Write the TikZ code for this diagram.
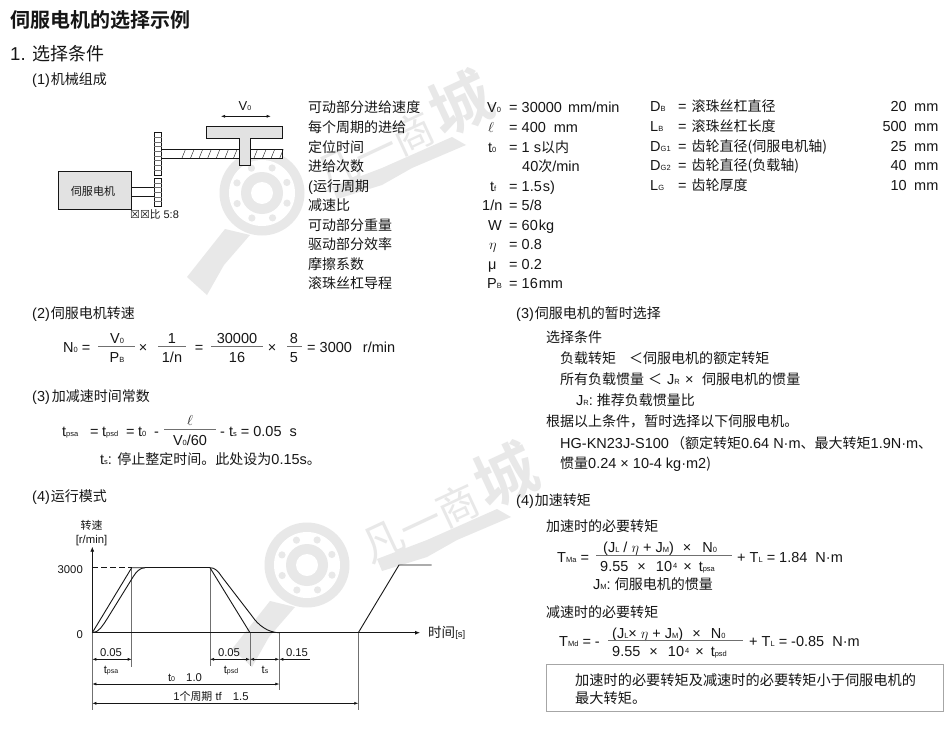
\documentclass[tikz,border=0pt]{standalone}
\usepackage{fontspec}
\usepackage{amsmath}
\setmainfont{Liberation Sans}
\newfontfamily\cjkfam[BoldFont=* Bold,Scale=0.966]{Noto Sans CJK SC}
\newfontfamily\boxfam{DejaVu Sans}
\usetikzlibrary{arrows.meta}
\definecolor{ink}{HTML}{161616}
\definecolor{wm}{HTML}{E8E8E8}
\definecolor{fillg}{HTML}{E2E2E2}
\definecolor{guide}{HTML}{707070}
\newcommand\zh[1]{{\cjkfam #1}}
\newcommand\sbx[1]{{\fontsize{7.5}{8}\selectfont #1}}
\newcommand\sbs[1]{{\fontsize{7}{7}\selectfont #1}}
\newcommand\supx[1]{\raisebox{3pt}{\fontsize{7.5}{8}\selectfont #1}}
\newcounter{tn}
\newcommand\tx[4][]{\stepcounter{tn}\node[txt,#1] (t\arabic{tn}) at (#2,#3+5) {#4};}
\tikzset{
  txt/.style={inner sep=0pt,anchor=base west,text=ink,font=\fontsize{14.5}{16}\selectfont},
  ctr/.style={anchor=base},
  rgt/.style={anchor=base east},
  chartfont/.style={font=\fontsize{11.3}{13}\selectfont},
  part/.style={draw=ink,line width=1pt,fill=fillg},
  thin part/.style={draw=ink,line width=0.8pt,fill=white},
  tooth/.style={draw=guide,line width=0.35pt},
  curve/.style={draw=ink,line width=0.9pt},
  guideline/.style={draw=guide,line width=0.7pt},
  dim/.style={draw=ink,line width=0.6pt,{Latex[length=4pt,width=3pt]}-{Latex[length=4pt,width=3pt]}},
  rulefrac/.style={draw=guide,line width=0.7pt},
}
\newcommand\wmark[3]{%
  \begin{scope}[shift={(#1,#2)}]
    \fill[wm] (0,0) circle[radius=42.5];
    \fill[white] (0,0) circle[radius=33];
    \fill[wm] (0,0) circle[radius=21];
    \fill[white] (0,0) circle[radius=11];
    \foreach \a in {0,45,...,315} \fill[wm] (\a+22:27) circle[radius=3.6];
    \fill[wm] (-75,84) -- (-37,36) -- (-12,42) -- (-38,72) -- (-55,102) -- cycle;
    \fill[wm] (70,-6) -- (120,-25) -- (190,-56) -- (204,-48) -- (150,-25) -- (120,-8) -- (75,6) -- cycle;
    \node[inner sep=0pt,rotate=25,text=wm,font=\fontsize{43}{46}\selectfont] (#3) at (140,-63)
      {\zh{凡一商}\hspace{4pt}\fontsize{64}{66}\selectfont\zh{\bfseries 城}};
  \end{scope}}
\begin{document}
\begin{tikzpicture}[x=1pt,y=-1pt]
\useasboundingbox (0,0) rectangle (950,731);
\fill[white] (0,0) rectangle (950,731);
\wmark{262}{193}{wmA}
\wmark{307}{565}{wmB}

% headings
\tx[font=\fontsize{20.7}{22}\selectfont]{10}{22}{\zh{\bfseries 伺服电机的选择示例}}
\tx[font=\fontsize{18.6}{20}\selectfont]{10}{55}{1. \zh{选择条件}}
\tx{32}{79}{(1)\hspace{1pt}\zh{机械组成}}
\tx{32}{313}{(2)\hspace{1pt}\zh{伺服电机转速}}
\tx{32}{396}{(3)\hspace{2pt}\zh{加减速时间常数}}
\tx{32}{496}{(4)\hspace{1pt}\zh{运行模式}}
\tx{516}{313}{(3)\hspace{1pt}\zh{伺服电机的暂时选择}}
\tx{516}{500}{(4)\hspace{1pt}\zh{加速转矩}}

% mechanism
\draw[part] (58,171) rectangle (131.7,209);
\node[txt,ctr,font=\fontsize{11.4}{13}\selectfont] (motor) at (93,195) {\zh{伺服电机}};
\draw[thin part] (131.7,187.7) rectangle (154.3,196.7);
\draw[thin part] (161.5,149.3) rectangle (282,158);
\foreach \h in {0,8.6,...,52} \draw[draw=ink,line width=0.4pt] (182+\h,158) -- (185.5+\h,149.3);
\foreach \h in {0,8.6,...,26} \draw[draw=ink,line width=0.4pt] (254+\h,158) -- (257.5+\h,149.3);
\draw[draw=ink,line width=0.8pt,fill=white] (154.3,132.3) rectangle (161.5,175);
\foreach \v in {4.7,9.4,...,40} \draw[tooth] (154.3,132.3+\v) -- (161.5,132.3+\v);
\draw[draw=ink,line width=0.8pt,fill=white] (154.3,178) rectangle (161.5,206.7);
\foreach \v in {4.7,9.4,...,27} \draw[tooth] (154.3,178+\v) -- (161.5,178+\v);
\draw[part] (206.7,126) -- (282.3,126) -- (282.3,138.3) -- (250.7,138.3) -- (250.7,165.7) -- (239,165.7) -- (239,138.3) -- (206.7,138.3) -- cycle;
\coordinate (va) at (221,116.3);
\coordinate (vb) at (270.7,116.3);
\draw[dim] (va) -- (vb);
\tx[ctr,font=\fontsize{13}{14}\selectfont]{245}{105}{V\sbs{0}}
\tx[font=\fontsize{11}{12}\selectfont]{130}{213}{{\boxfam ☒☒}\zh{比} 5:8}

% parameter table, left
\tx{308}{107}{\zh{可动部分进给速度}}
\tx{308}{127}{\zh{每个周期的进给}}
\tx{308}{147}{\zh{定位时间}}
\tx{308}{166}{\zh{进给次数}}
\tx{308}{186}{(\zh{运行周期}}
\tx{308}{205}{\zh{减速比}}
\tx{308}{225}{\zh{可动部分重量}}
\tx{308}{244}{\zh{驱动部分效率}}
\tx{308}{264}{\zh{摩擦系数}}
\tx{308}{283}{\zh{滚珠丝杠导程}}

\tx{487}{107}{V\sbx{0}}
\tx{509}{107}{= 30000\hspace{6pt}mm/min}
\tx{488}{127}{$\ell$}
\tx{509}{127}{= 400\hspace{8pt}mm}
\tx{488}{147}{t\sbx{0}}
\tx{509}{147}{= 1 s\zh{以内}}
\tx{522}{166}{40\zh{次}/min}
\tx{490}{186}{t\sbx{f}}
\tx{509}{186}{= 1.5\hspace{1pt}s)}
\tx{482}{205}{1/n}
\tx{509}{205}{= 5/8}
\tx{488}{225}{W}
\tx{509}{225}{= 60\hspace{1pt}kg}
\tx{489}{244}{$\eta$}
\tx{509}{244}{= 0.8}
\tx{488}{264}{μ}
\tx{509}{264}{= 0.2}
\tx{487}{283}{P\sbx{B}}
\tx{509}{283}{= 16\hspace{1pt}mm}

% parameter table, right
\tx{650}{106}{D\sbx{B}}
\tx{650}{126}{L\sbx{B}}
\tx{650}{146}{D\sbx{G1}}
\tx{650}{165}{D\sbx{G2}}
\tx{650}{185}{L\sbx{G}}
\tx{678}{106}{=\hspace{5pt}\zh{滚珠丝杠直径}}
\tx{678}{126}{=\hspace{5pt}\zh{滚珠丝杠长度}}
\tx{678}{146}{=\hspace{5pt}\zh{齿轮直径(伺服电机轴)}}
\tx{678}{165}{=\hspace{5pt}\zh{齿轮直径(负载轴)}}
\tx{678}{185}{=\hspace{5pt}\zh{齿轮厚度}}
\tx[rgt]{907}{106}{20}
\tx[rgt]{907}{126}{500}
\tx[rgt]{907}{146}{25}
\tx[rgt]{907}{165}{40}
\tx[rgt]{907}{185}{10}
\tx{914}{106}{mm}
\tx{914}{126}{mm}
\tx{914}{146}{mm}
\tx{914}{165}{mm}
\tx{914}{185}{mm}

% N0 equation
\tx{63}{347}{N\sbx{0} =}
\tx[ctr]{117}{338}{V\sbx{0}}
\draw[rulefrac] (98,346) -- (135,346);
\tx[ctr]{117}{357}{P\sbx{B}}
\tx[ctr]{143}{347}{×}
\tx[ctr]{172}{338}{1}
\draw[rulefrac] (158,346) -- (186,346);
\tx[ctr]{172}{357}{1/n}
\tx[ctr]{199}{347}{=}
\tx[ctr]{237}{338}{30000}
\draw[rulefrac] (211,346) -- (263,346);
\tx[ctr]{237}{357}{16}
\tx[ctr]{272}{347}{×}
\tx[ctr]{294}{338}{8}
\draw[rulefrac] (287,346) -- (302,346);
\tx[ctr]{294}{357}{5}
\tx{307}{347}{= 3000\hspace{11pt}r/min}

% time constant equation
\tx{62}{431}{t\sbx{psa}}
\tx{90}{431}{=}
\tx{102}{431}{t\sbx{psd}}
\tx{126}{431}{=}
\tx{138}{431}{t\sbx{0}}
\tx{154}{431}{-}
\tx[ctr]{190}{420}{$\ell$}
\draw[rulefrac] (164,429) -- (216,429);
\tx[ctr]{190}{440}{V\sbx{0}/60}
\tx{220}{431}{- t\sbx{s} = 0.05\hspace{8pt}s}
\tx{100}{459}{t\sbx{s}: \zh{停止整定时间。此处设为}0.15s\zh{。}}

% selection text
\tx{546}{337}{\zh{选择条件}}
\tx{560}{358}{\zh{负载转矩}}
\tx{629}{358}{\zh{＜伺服电机的额定转矩}}
\tx{560}{379}{\zh{所有负载惯量}}
\tx{648}{379}{\zh{＜}}
\tx{667}{379}{J\sbx{R}}
\tx{685}{379}{×}
\tx{702}{379}{\zh{伺服电机的惯量}}
\tx{576}{400}{J\sbx{R}: \zh{推荐负载惯量比}}
\tx{546}{421}{\zh{根据以上条件，暂时选择以下伺服电机。}}
\tx{560}{443}{HG-KN23J-S100\hspace{2pt}\zh{（额定转矩}0.64 N·m\zh{、最大转矩}1.9N·m\zh{、}}
\tx{560}{463}{\zh{惯量}0.24 × 10-4 kg·m2\zh{)}}

% torque equations
\tx{546}{526}{\zh{加速时的必要转矩}}
\tx{557}{557}{T\sbx{Ma} =}
\tx{603}{547}{(J\sbx{L} / $\eta$ + J\sbx{M})\hspace{5pt} ×\hspace{7pt} N\sbx{0}}
\draw[rulefrac] (596,555) -- (732,555);
\tx{600}{566}{9.55\hspace{5pt} ×\hspace{6pt} 10\hspace{1pt}\supx{4}\hspace{2pt} ×\hspace{3pt} t\sbx{psa}}
\tx{737}{557}{+ T\sbx{L} = 1.84\hspace{8pt}N·m}
\tx{593}{584}{J\sbx{M}: \zh{伺服电机的惯量}}
\tx{546}{612}{\zh{减速时的必要转矩}}
\tx{559}{641}{T\sbx{Md} = -}
\tx{612}{633}{(J\sbx{L}× $\eta$ + J\sbx{M})\hspace{5pt} ×\hspace{6pt} N\sbx{0}}
\draw[rulefrac] (608,640) -- (743,640);
\tx{612}{651}{9.55\hspace{5pt} ×\hspace{6pt} 10\hspace{1pt}\supx{4}\hspace{2pt} ×\hspace{3pt} t\sbx{psd}}
\tx{749}{641}{+ T\sbx{L} = -0.85\hspace{8pt}N·m}
\draw[draw=gray!70,line width=0.8pt] (546,664) rectangle (943,711);
\tx[font=\fontsize{14.7}{16}\selectfont]{575}{680}{\zh{加速时的必要转矩及减速时的必要转矩小于伺服电机的}}
\tx[font=\fontsize{14.7}{16}\selectfont]{575}{698}{\zh{最大转矩。}}

% speed chart
\coordinate (O) at (92.3,632.7);
\coordinate (top) at (92.3,546.7);
\coordinate (xend) at (420,632.7);
\coordinate (v3) at (92.3,567.7);
\coordinate (a) at (131.7,567.7);
\coordinate (b) at (210,567.7);
\coordinate (c) at (250,632.7);
\coordinate (d) at (279.3,632.7);
\coordinate (e) at (358.3,632.7);
\coordinate (f) at (399,565);
\coordinate (g) at (431.7,565);
\coordinate (aend) at (145,567.7);
\draw[guideline] (a) -- (131.7,666.7);
\draw[guideline] (b) -- (210,666);
\draw[guideline] (c) -- (250,666);
\draw[guideline] (d) -- (279.3,690);
\draw[guideline] (O) -- (92.3,710);
\draw[guideline] (e) -- (358.3,710);
\draw[draw=ink,line width=0.8pt,-{Latex[length=5pt,width=4pt]}] (O) -- (top);
\draw[draw=ink,line width=0.8pt,-{Latex[length=5pt,width=4pt]}] (O) -- (xend);
\draw[curve,dash pattern=on 6pt off 3pt] (v3) -- (a);
\draw[curve] (O) -- (a) -- (aend);
\draw[curve] (aend) -- (b);
\draw[curve] (b) -- (c);
\draw[curve] (O) .. controls (99,632.7) and (103,625) .. (107,619) -- (133,577) .. controls (136,572) and (140,567.7) .. (aend);
\draw[curve] (b) .. controls (215,567.7) and (218,571) .. (222,577) -- (252,616) .. controls (258,625) and (268,632.7) .. (d);
\draw[curve] (e) -- (f) -- (g);
\coordinate (d1) at (92.3,659.3);
\coordinate (d2) at (131.7,659.3);
\coordinate (d3) at (210,659.3);
\coordinate (d4) at (250,659.3);
\coordinate (d5) at (279.3,659.3);
\coordinate (d6) at (310,659.3);
\draw[dim] (d1) -- (d2);
\draw[dim] (d3) -- (d4);
\draw[dim] (d4) -- (d5);
\draw[draw=ink,line width=0.6pt,{Latex[length=4pt,width=3pt]}-] (d5) -- (d6);
\coordinate (e1) at (92.3,684);
\coordinate (e2) at (279.3,684);
\coordinate (f1) at (92.3,703.3);
\coordinate (f2) at (358.3,703.3);
\draw[dim] (e1) -- (e2);
\draw[dim] (f1) -- (f2);
\tx[ctr,chartfont]{91.5}{524}{\zh{转速}}
\tx[ctr,chartfont]{91.5}{538}{[r/min]}
\tx[rgt,chartfont]{83}{568}{3000}
\tx[rgt,chartfont]{83}{633}{0}
\tx[font=\fontsize{14}{15}\selectfont]{428}{632}{\zh{时间}\fontsize{9.5}{11}\selectfont[s]}
\tx[ctr,chartfont]{111}{651}{0.05}
\tx[ctr,chartfont]{111}{668}{t\sbs{psa}}
\tx[ctr,chartfont]{229}{651}{0.05}
\tx[ctr,chartfont]{231}{668}{t\sbs{psd}}
\tx[ctr,chartfont]{265}{668}{t\sbs{s}}
\tx[ctr,chartfont]{297}{651}{0.15}
\tx[ctr,chartfont]{185}{676}{t\sbs{0}\hspace{8pt} 1.0}
\tx[ctr,chartfont]{211}{695}{1\zh{个周期} tf\hspace{8pt} 1.5}
\end{tikzpicture}
\end{document}
